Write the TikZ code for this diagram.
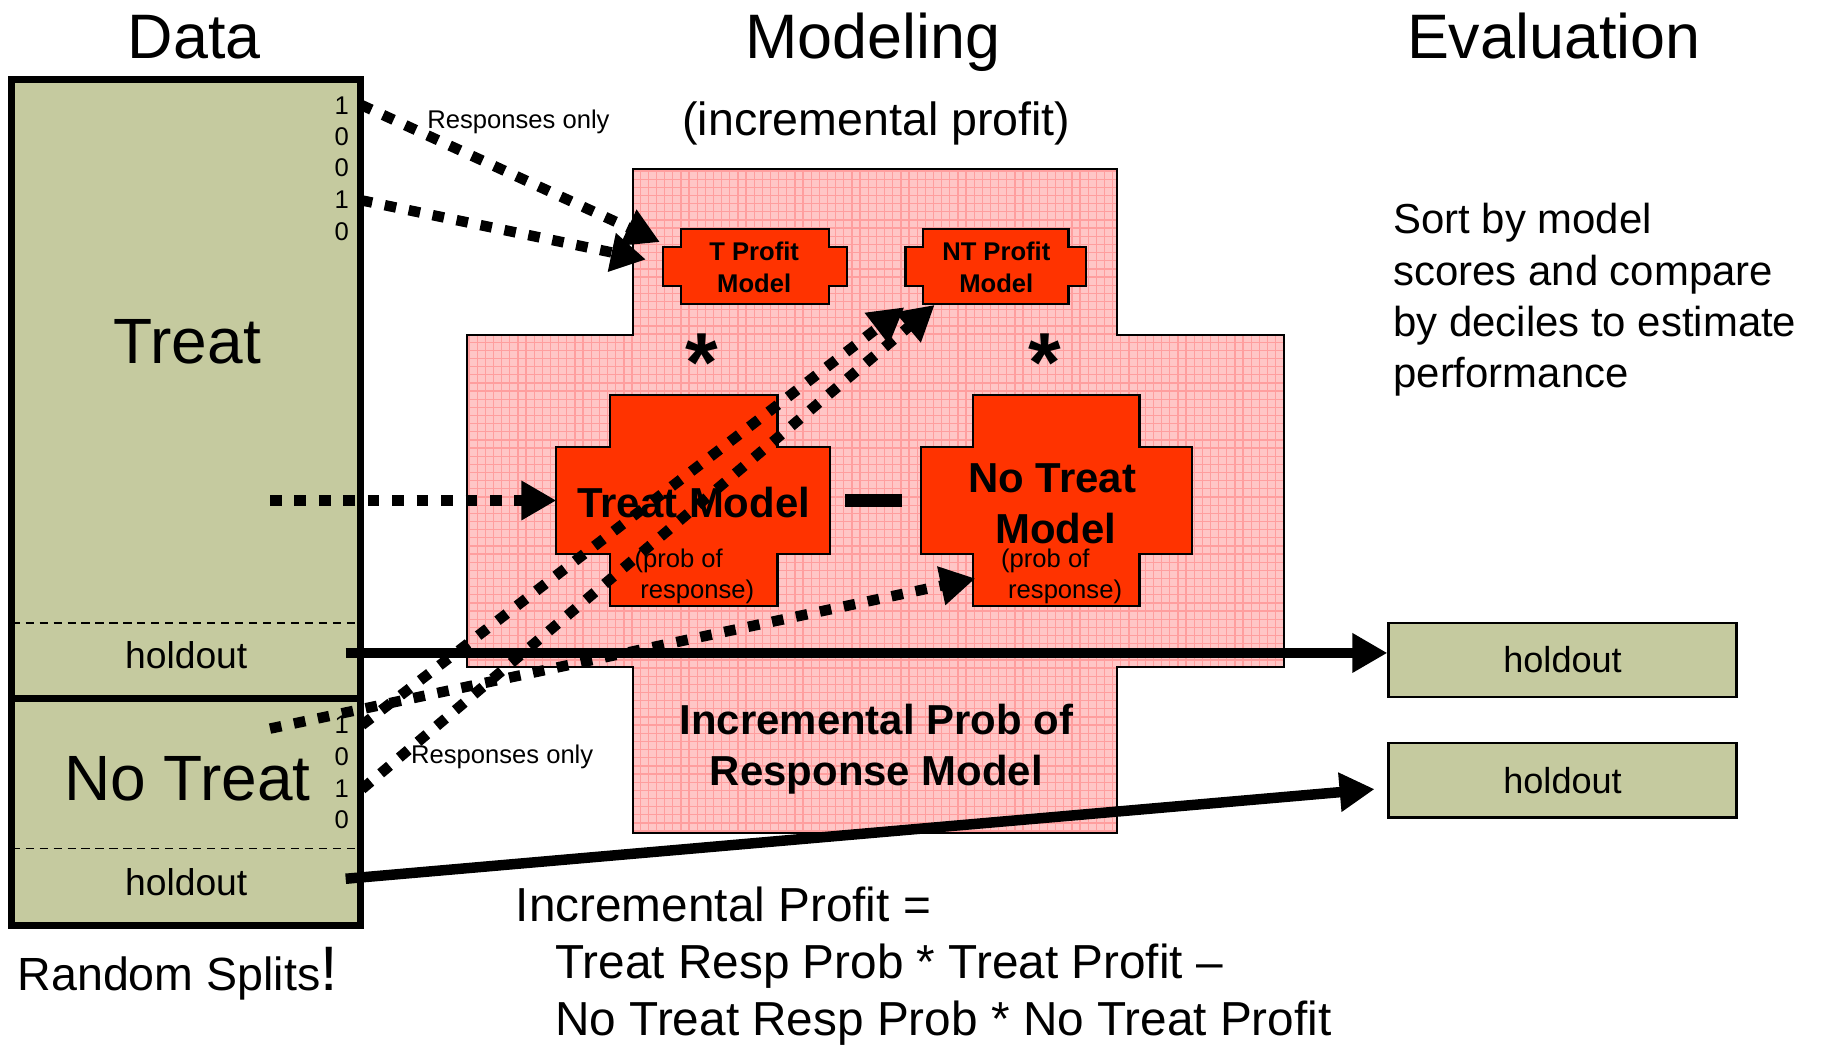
\documentclass[tikz,border=0pt]{standalone}
\usepackage{fontspec}
\setmainfont{Liberation Sans}
\usetikzlibrary{arrows.meta}
\definecolor{datafill}{HTML}{C5CA9F}
\definecolor{modelred}{HTML}{FF3300}
\definecolor{pinkbase}{HTML}{FFC6C6}
\definecolor{pinkgrid}{HTML}{FF9E9E}
\begin{document}
\begin{tikzpicture}[x=1pt,y=-1pt,
  txt/.style={inner sep=0pt, anchor=base},
  sz/.style={font=\fontsize{#1}{#1}\selectfont},
  bsz/.style={font=\fontsize{#1}{#1}\selectfont\bfseries},
  tip/.style={-{Triangle[length=30pt,width=32pt]}},
  dotarrow/.style={tip, line width=9pt, dash pattern=on 10pt off 11pt},
  solidarrow/.style={tip, line width=9pt},
  modelbox/.style={fill=modelred, draw=black, line width=1.8pt, line join=miter},
  holdbox/.style={fill=datafill, draw=black, line width=2pt, minimum width=299pt,
    minimum height=64pt, inner sep=0pt, sz=31},
  gridline/.style={draw=pinkgrid, line width=1.1pt},
]
\useasboundingbox (0,0) rectangle (1568,897);

% ---------- column titles ----------
\node[txt, sz=54] (data) at (167,50) {Data};
\node[txt, sz=54] (modeling) at (750,50) {Modeling};
\node[txt, sz=54] (evaluation) at (1335,50) {Evaluation};
\node[txt, sz=40] (incprofit) at (753,116) {(incremental profit)};

% ---------- data column ----------
\fill[datafill] (10,68) rectangle (310,795);
\draw[line width=1.4pt, dash pattern=on 7pt off 5pt] (10,535) -- (310,535);
\draw[line width=1.4pt, dash pattern=on 7pt off 5pt] (10,729) -- (310,729);
\draw[line width=6pt] (10,600) -- (310,600);
\draw[line width=6pt] (10,68) rectangle (310,795);

\node[txt, sz=55] (treat) at (161,312) {Treat};
\node[txt, sz=32] (hoT) at (160,574) {holdout};
\node[txt, sz=55] (notreat) at (161,688) {No Treat};
\node[txt, sz=32] (hoN) at (160,769) {holdout};

\foreach \d/\yy [count=\i] in {1/98,0/125,0/152,1/179,0/207}
  \node[txt, anchor=base east, sz=22] (td\i) at (300,\yy) {\d};
\foreach \d/\yy [count=\i] in {1/630,0/658,1/685,0/712}
  \node[txt, anchor=base east, sz=22] (nd\i) at (300,\yy) {\d};

\node[txt, anchor=base west, sz=40] (splits) at (15,851)
  {Random Splits{\fontsize{54}{54}\selectfont!}};

% ---------- incremental model block ----------
\fill[pinkbase] (544,145) -- (960,145) -- (960,288) -- (1103,288) -- (1103,573)
  -- (960,573) -- (960,716) -- (544,716) -- (544,573) -- (401,573) -- (401,288)
  -- (544,288) -- cycle;
\begin{scope}
  \clip (544,145) -- (960,145) -- (960,288) -- (1103,288) -- (1103,573)
    -- (960,573) -- (960,716) -- (544,716) -- (544,573) -- (401,573) -- (401,288)
    -- (544,288) -- cycle;
  \foreach \gx in {403,410,...,1103} \draw[gridline] (\gx,145) -- (\gx,716);
  \foreach \gy in {147,154,...,716} \draw[gridline] (401,\gy) -- (1103,\gy);
\end{scope}
\draw[line width=1.5pt] (544,145) -- (960,145) -- (960,288) -- (1103,288) -- (1103,573)
  -- (960,573) -- (960,716) -- (544,716) -- (544,573) -- (401,573) -- (401,288)
  -- (544,288) -- cycle;

% profit models
\draw[modelbox] (585,197) -- (712,197) -- (712,212) -- (728,212) -- (728,246)
  -- (712,246) -- (712,261) -- (585,261) -- (585,246) -- (570,246) -- (570,212)
  -- (585,212) -- cycle;
\draw[modelbox] (793,197) -- (918,197) -- (918,212) -- (933,212) -- (933,246)
  -- (918,246) -- (918,261) -- (793,261) -- (793,246) -- (778,246) -- (778,212)
  -- (793,212) -- cycle;
\node[txt, bsz=22] (tprof1) at (648,224) {T Profit};
\node[txt, bsz=22] (tprof2) at (648,251) {Model};
\node[txt, bsz=22] (ntprof1) at (856,224) {NT Profit};
\node[txt, bsz=22] (ntprof2) at (856,251) {Model};

\node[txt, bsz=72] (starT) at (603,336) {*};
\node[txt, bsz=72] (starN) at (898,336) {*};

% response models
\draw[modelbox] (524,339) -- (668,339) -- (668,384) -- (713,384) -- (713,476)
  -- (668,476) -- (668,521) -- (524,521) -- (524,476) -- (478,476) -- (478,384)
  -- (524,384) -- cycle;
\draw[modelbox] (836,339) -- (979,339) -- (979,384) -- (1024,384) -- (1024,476)
  -- (979,476) -- (979,521) -- (836,521) -- (836,476) -- (791,476) -- (791,384)
  -- (836,384) -- cycle;
\node[txt, bsz=36] (tmodel) at (596,445) {Treat Model};
\node[txt, anchor=base west, sz=22] (tprob1) at (545,488) {(prob of};
\node[txt, anchor=base west, sz=22] (tprob2) at (550,514) {response)};
\node[txt, bsz=36] (nmodel1) at (904,423) {No Treat};
\node[txt, bsz=36] (nmodel2) at (907,467) {Model};
\node[txt, anchor=base west, sz=22] (nprob1) at (860,488) {(prob of};
\node[txt, anchor=base west, sz=22] (nprob2) at (866,514) {response)};
\fill (726,424) rectangle (775,436);

\node[txt, bsz=36] (incr1) at (753,631) {Incremental Prob of};
\node[txt, bsz=36] (incr2) at (753,675) {Response Model};

% ---------- formula ----------
\node[txt, anchor=base west, sz=41] (f1) at (443,792) {Incremental Profit =};
\node[txt, anchor=base west, sz=41] (f2) at (477,841) {Treat Resp Prob * Treat Profit –};
\node[txt, anchor=base west, sz=41] (f3) at (477,890) {No Treat Resp Prob * No Treat Profit};

% ---------- evaluation column ----------
\foreach \ln/\yy [count=\i] in {Sort by model/201, scores and compare/245,
    by deciles to estimate/289, performance/333}
  \node[txt, anchor=base west, sz=36] (sort\i) at (1197,\yy) {\ln};
\node[holdbox] (evalT) at (1342.5,567) {holdout};
\node[holdbox] (evalN) at (1342.5,670.5) {holdout};

% ---------- flows ----------
\coordinate (srcT1) at (310,90);
\coordinate (srcT2) at (310,172);
\coordinate (srcT3) at (232,430);
\coordinate (srcN0) at (232,626);
\coordinate (srcN1) at (311,623);
\coordinate (srcN2) at (311,678);
\coordinate (inTP1) at (567,208);
\coordinate (inTP2) at (555,223);
\coordinate (inTM) at (478,430);
\coordinate (inNM) at (838,497);
\coordinate (inNP1) at (777,264);
\coordinate (inNP2) at (803,262);
\coordinate (outT) at (297,561);
\coordinate (outN) at (297,755);
\coordinate (evN) at (1181,678);

\node[txt, anchor=base west, sz=22] (respT) at (367,110) {Responses only};
\node[txt, anchor=base west, sz=22] (respN) at (353,656) {Responses only};

\draw[dotarrow] (srcT1) -- (inTP1);
\draw[dotarrow] (srcT2) -- (inTP2);
\draw[dotarrow] (srcT3) -- (inTM);
\draw[dotarrow] (srcN0) -- (inNM);
\draw[dotarrow] (srcN1) -- (inNP1);
\draw[dotarrow] (srcN2) -- (inNP2);

\draw[solidarrow] (outT) -- (outT -| evalT.west);
\draw[solidarrow] (outN) -- (evN);
\end{tikzpicture}
\end{document}
